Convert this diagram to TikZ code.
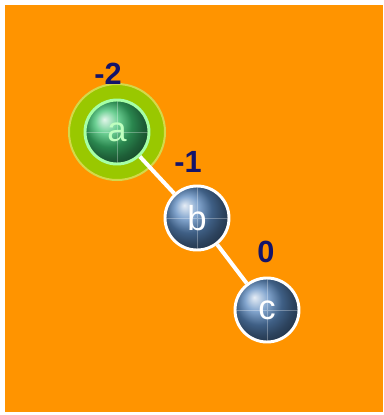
\documentclass[tikz,border=0pt]{standalone}
\usepackage{fontspec}
\setmainfont{Liberation Sans}
\usetikzlibrary{backgrounds}
\definecolor{bgorange}{HTML}{FF9400}
\definecolor{ringgreen}{HTML}{99C800}
\definecolor{ballblue}{HTML}{5A88BE}
\definecolor{ballgreen}{HTML}{3CC070}
\definecolor{lblnavy}{HTML}{14146A}

\tikzset{
  treenode/.style={circle,minimum size=48pt,inner sep=0pt,draw=white,line width=2.2pt,
    ball color=ballblue,text=white,font=\fontsize{26}{26}\selectfont,
    path picture={\draw[white,opacity=0.3,line width=0.5pt]
      (path picture bounding box.north) -- (path picture bounding box.south)
      (path picture bounding box.west) -- (path picture bounding box.east);}},
  activenode/.style={treenode,ball color=ballgreen,draw=green!35!white,text=green!25!white},
  balance/.style={font=\bfseries\fontsize{23}{23}\selectfont,text=lblnavy},
  treeedge/.style={draw=white,line width=3pt}
}

\begin{document}
\begin{tikzpicture}[x=0.75pt,y=0.75pt]
  \useasboundingbox (0,0) rectangle (384,-415);
  % nodes
  \node[activenode] (a) at (117,-132) {a};
  \node[treenode] (b) at (197,-218) {b};
  \node[treenode] (c) at (267,-310) {c};
  % balance factors
  \node[balance] (ba) at (108,-74) {-2};
  \node[balance] (bb) at (188,-162) {-1};
  \node[balance] (bc) at (266,-252) {0};
  \begin{scope}[on background layer]
    \fill[white] (0,0) rectangle (384,-415);
    \fill[bgorange] (5,-5) rectangle (383,-412);
    \node[circle,minimum size=72pt,fill=ringgreen,draw=yellow!40!ringgreen!80!white,line width=1.5pt] (aring) at (a) {};
    \draw[treeedge] (a) -- (b);
    \draw[treeedge] (b) -- (c);
  \end{scope}
\end{tikzpicture}
\end{document}
